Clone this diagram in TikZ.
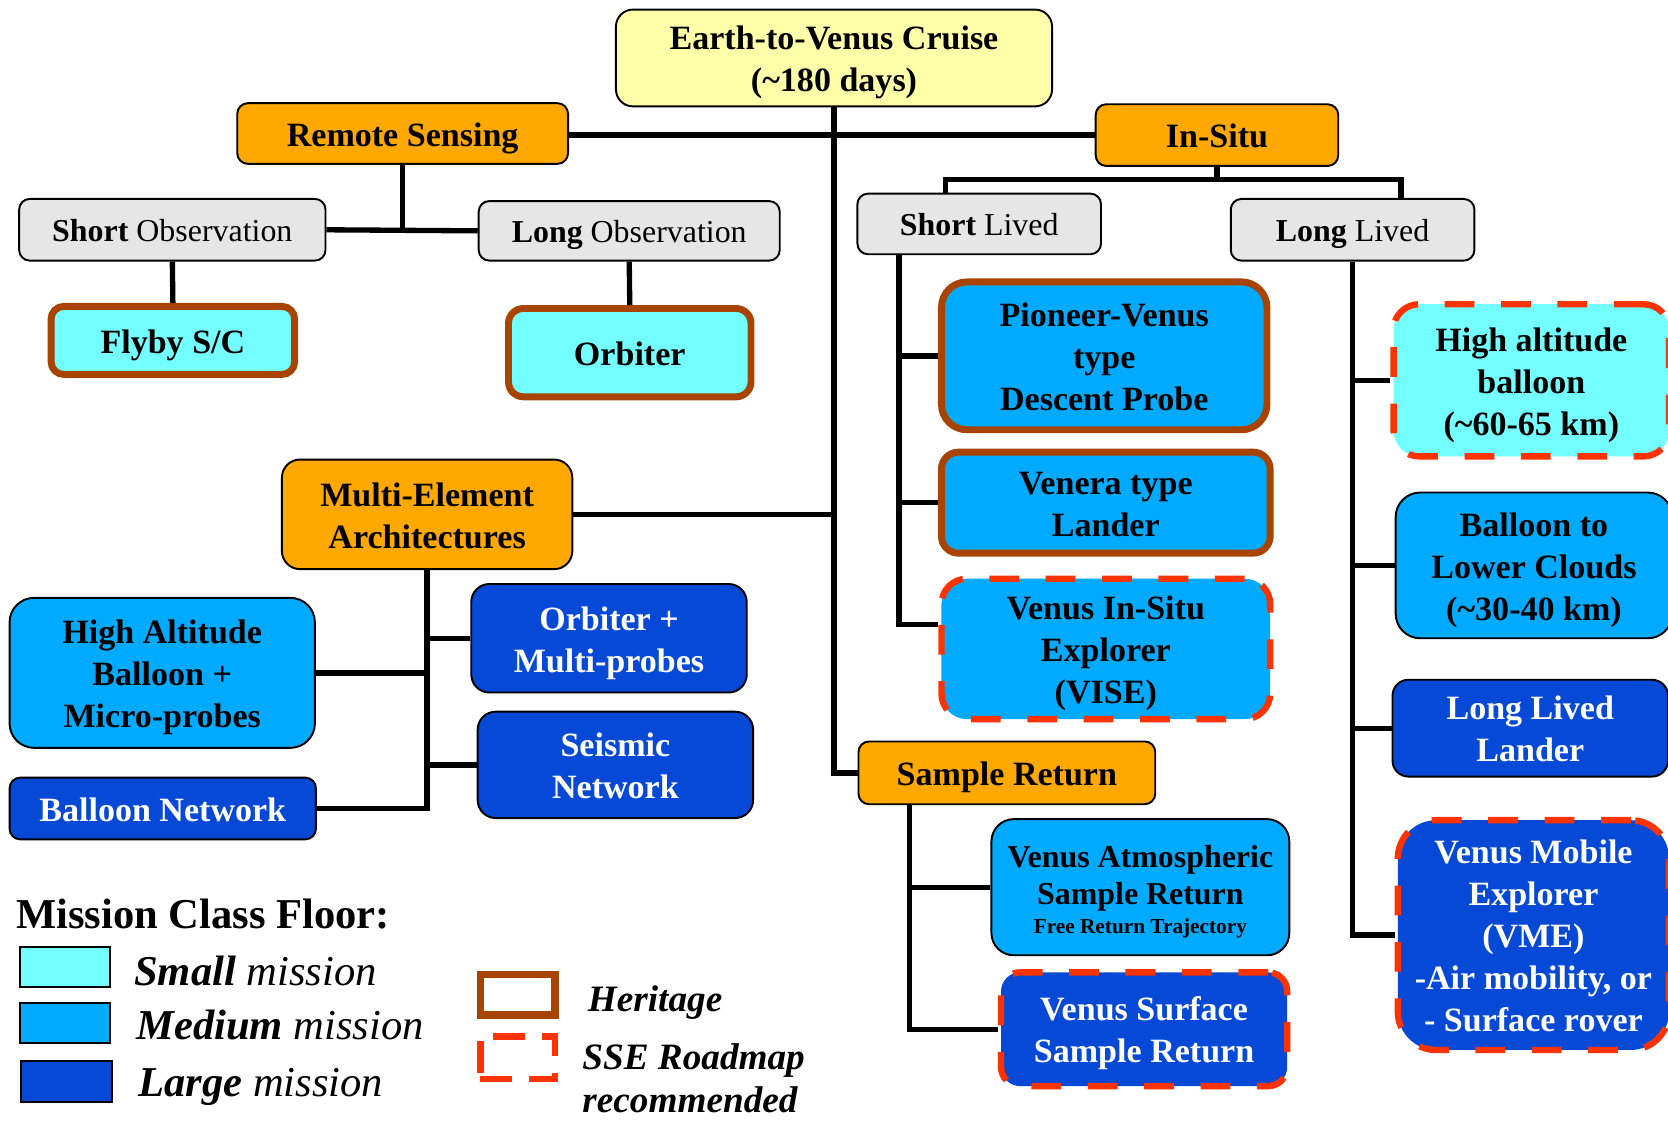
\documentclass[tikz,border=0pt]{standalone}
\usepackage{fontspec}
\setmainfont{Liberation Serif}
\definecolor{cYel}{HTML}{FFFFAA}
\definecolor{cOrg}{HTML}{FFA800}
\definecolor{cGry}{HTML}{E6E6E6}
\definecolor{cCyan}{HTML}{73FFFF}
\definecolor{cMed}{HTML}{00AAFF}
\definecolor{cDark}{HTML}{0549D6}
\definecolor{cBrown}{HTML}{A84400}
\definecolor{cRed}{HTML}{FF3300}
\newcommand{\tstr}{\rule{0pt}{1em}}
\newcommand{\bstr}{\rule[-0.25em]{0pt}{0pt}}
\tikzset{
  boxbase/.style={draw=black, line width=1.8pt, align=center, inner sep=0pt,
    font=\fontsize{32}{39.5}\selectfont\bfseries},
  yel/.style={boxbase, fill=cYel},
  org/.style={boxbase, fill=cOrg},
  gry/.style={boxbase, fill=cGry, font=\fontsize{30}{36}\selectfont\mdseries},
  smallm/.style={boxbase, fill=cCyan},
  medm/.style={boxbase, fill=cMed},
  largem/.style={boxbase, fill=cDark, text=white},
  heritage/.style={draw=cBrown, line width=6.5pt},
  sse/.style={draw=cRed, line width=6pt, dash pattern=on 28pt off 25pt},
  conn/.style={line width=5pt, draw=black},
  lgtext/.style={anchor=base west, inner sep=0pt},
}
\begin{document}
\begin{tikzpicture}[x=1pt,y=-1pt]
\useasboundingbox (0,0) rectangle (1568,1053);
\clip (0,0) rectangle (1568,1053);
\fill[white] (0,0) rectangle (1568,1053);

% top level
\node[yel, minimum width=410, minimum height=91, rounded corners=16] (cruise) at (784,54.5) {\tstr Earth-to-Venus Cruise\\(\string~180 days)\bstr};
\node[org, minimum width=311, minimum height=57, rounded corners=10] (remote) at (378.5,125.5) {\tstr Remote Sensing\bstr};
\node[org, minimum width=228, minimum height=58, rounded corners=10] (insitu) at (1144,127) {\tstr In-Situ\bstr};
\node[org, minimum width=273, minimum height=103, rounded corners=17] (multi) at (401.5,483.5) {\tstr Multi-Element\\Architectures\bstr};
\node[org, minimum width=279, minimum height=59, rounded corners=10] (sample) at (946.5,726.5) {\tstr Sample Return\bstr};

% second level
\node[gry, minimum width=288, minimum height=58, rounded corners=10] (shortobs) at (162,216) {\tstr\textbf{Short} Observation\bstr};
\node[gry, minimum width=283, minimum height=56, rounded corners=10] (longobs) at (591.5,217) {\tstr\textbf{Long} Observation\bstr};
\node[gry, minimum width=229, minimum height=57, rounded corners=10] (shortlived) at (920.5,210.5) {\tstr\textbf{Short} Lived\bstr};
\node[gry, minimum width=229, minimum height=58, rounded corners=10] (longlived) at (1271.5,216) {\tstr\textbf{Long} Lived\bstr};

% remote sensing leaves
\node[smallm, heritage, minimum width=229, minimum height=64, rounded corners=12] (flyby) at (162.5,320) {\tstr Flyby S/C\bstr};
\node[smallm, heritage, minimum width=228, minimum height=83, rounded corners=14] (orbiter) at (592,331.5) {\tstr Orbiter\bstr};

% short lived leaves
\node[medm, heritage, minimum width=306, minimum height=139, rounded corners=24] (pioneer) at (1038,334.5) {\tstr Pioneer-Venus\\type\\Descent Probe\bstr};
\node[medm, heritage, minimum width=309, minimum height=95, rounded corners=16] (venera) at (1039.5,472.5) {\tstr Venera type\\Lander\bstr};
\node[medm, sse, minimum width=309, minimum height=132, rounded corners=24] (vise) at (1039.5,610) {\tstr Venus In-Situ\\Explorer\\(VISE)\bstr};

% long lived leaves
\node[smallm, sse, minimum width=259, minimum height=143, rounded corners=24] (highalt) at (1439.5,357.5) {\tstr High altitude\\balloon\\(\string~60-65 km)\bstr};
\node[medm, minimum width=260, minimum height=137, rounded corners=23] (lowclouds) at (1442,531.5) {\tstr Balloon to\\Lower Clouds\\(\string~30-40 km)\bstr};
\node[largem, minimum width=259, minimum height=91, rounded corners=15] (lllander) at (1438.5,684.5) {\tstr Long Lived\\Lander\bstr};
\node[largem, sse, minimum width=255, minimum height=216, rounded corners=36] (vme) at (1441.5,879) {\tstr Venus Mobile\\Explorer\\(VME)\\-Air mobility, or\\- Surface rover\bstr};

% multi-element leaves
\node[medm, minimum width=287, minimum height=141, rounded corners=23] (hab) at (152.5,632.5) {\tstr High Altitude\\Balloon +\\Micro-probes\bstr};
\node[largem, minimum width=259, minimum height=102, rounded corners=17] (orbmulti) at (572.5,600) {\tstr Orbiter +\\Multi-probes\bstr};
\node[largem, minimum width=259, minimum height=100, rounded corners=17] (seismic) at (578.5,719) {\tstr Seismic\\Network\bstr};
\node[largem, minimum width=288, minimum height=58, rounded corners=10] (balnet) at (153,760) {\tstr Balloon Network\bstr};

% sample return leaves
\node[medm, minimum width=280, minimum height=128, rounded corners=21, font=\fontsize{30}{35}\selectfont\bfseries] (vasr) at (1072,834) {\tstr Venus Atmospheric\\Sample Return\\[-8pt]{\fontsize{20}{24}\selectfont Free Return Trajectory\bstr}};
\node[largem, sse, minimum width=269, minimum height=107, rounded corners=18] (vssr) at (1075.5,967.5) {\tstr Venus Surface\\Sample Return\bstr};

% connectors
\draw[conn] (cruise.south) -- (cruise.south |- sample.west) -- (sample.west);
\draw[conn] (remote.east |- insitu.west) -- (insitu.west);
\draw[conn] (multi.east) -- (multi.east -| cruise.south);
\draw[conn] (remote.south) -- (remote.south |- shortobs.east);
\draw[conn] (shortobs.east) -- (longobs.west);
\draw[conn] (shortobs.south) -- (flyby.north);
\draw[conn] (longobs.south) -- (orbiter.north);

\coordinate (isL) at (889,169);
\coordinate (isR) at (1317,169);
\draw[conn] (insitu.south) -- (insitu.south |- isL);
\draw[conn] (isL |- shortlived.north) -- (isL) -- (isR) -- (isR |- longlived.north);

\coordinate (slx) at (845,0);
\coordinate (viseIn) at ([yshift=23pt]vise.west);
\draw[conn] (slx |- shortlived.south) -- (slx |- viseIn) -- (viseIn);
\draw[conn] (slx |- pioneer.west) -- (pioneer.west);
\draw[conn] (slx |- venera.west) -- (venera.west);

\draw[conn] (longlived.south) -- (longlived.south |- vme.west) -- (vme.west);
\draw[conn] (longlived.south |- highalt.west) -- (highalt.west);
\draw[conn] (longlived.south |- lowclouds.west) -- (lowclouds.west);
\draw[conn] (longlived.south |- lllander.west) -- (lllander.west);

\draw[conn] (multi.south) -- (multi.south |- balnet.east) -- (balnet.east);
\draw[conn] (multi.south |- hab.east) -- (hab.east);
\draw[conn] (multi.south |- orbmulti.west) -- (orbmulti.west);
\draw[conn] (multi.south |- seismic.west) -- (seismic.west);

\coordinate (srx) at (855,0);
\draw[conn] (srx |- sample.south) -- (srx |- vssr.west) -- (vssr.west);
\draw[conn] (srx |- vasr.west) -- (vasr.west);

% legend
\node[anchor=west, inner sep=0pt, font=\fontsize{40}{46}\selectfont\bfseries] (lgtitle) at (15,859) {Mission Class Floor:};
\node[draw=black, line width=1.8pt, fill=cCyan, minimum width=85, minimum height=38, inner sep=0pt] (sw1) at (61,909) {};
\node[lgtext, font=\fontsize{40}{46}\selectfont] (lg1) at (126,926.5) {\textbf{\textit{Small}} \textit{mission}};
\node[draw=black, line width=1.8pt, fill=cMed, minimum width=85, minimum height=38, inner sep=0pt] (sw2) at (61,961.5) {};
\node[lgtext, font=\fontsize{40}{46}\selectfont] (lg2) at (128,977.6) {\textbf{\textit{Medium}} \textit{mission}};
\node[draw=black, line width=1.8pt, fill=cDark, minimum width=85, minimum height=39, inner sep=0pt] (sw3) at (62.5,1016.5) {};
\node[lgtext, font=\fontsize{40}{46}\selectfont] (lg3) at (130,1031) {\textbf{\textit{Large}} \textit{mission}};

\node[draw=cBrown, line width=7pt, minimum width=70, minimum height=38, inner sep=0pt] (swh) at (486.6,935.2) {};
\node[lgtext, font=\fontsize{35}{40}\selectfont\bfseries\itshape] (lgh) at (552.4,951) {Heritage};
\node[draw=cRed, line width=6pt, dash pattern=on 30pt off 16pt, minimum width=70, minimum height=40, inner sep=0pt] (sws) at (486.6,994.5) {};
\node[lgtext, font=\fontsize{35}{40}\selectfont\bfseries\itshape] (lgs1) at (547.3,1005.8) {SSE Roadmap};
\node[lgtext, font=\fontsize{35}{40}\selectfont\bfseries\itshape] (lgs2) at (547.3,1046) {recommended};
\end{tikzpicture}
\end{document}
